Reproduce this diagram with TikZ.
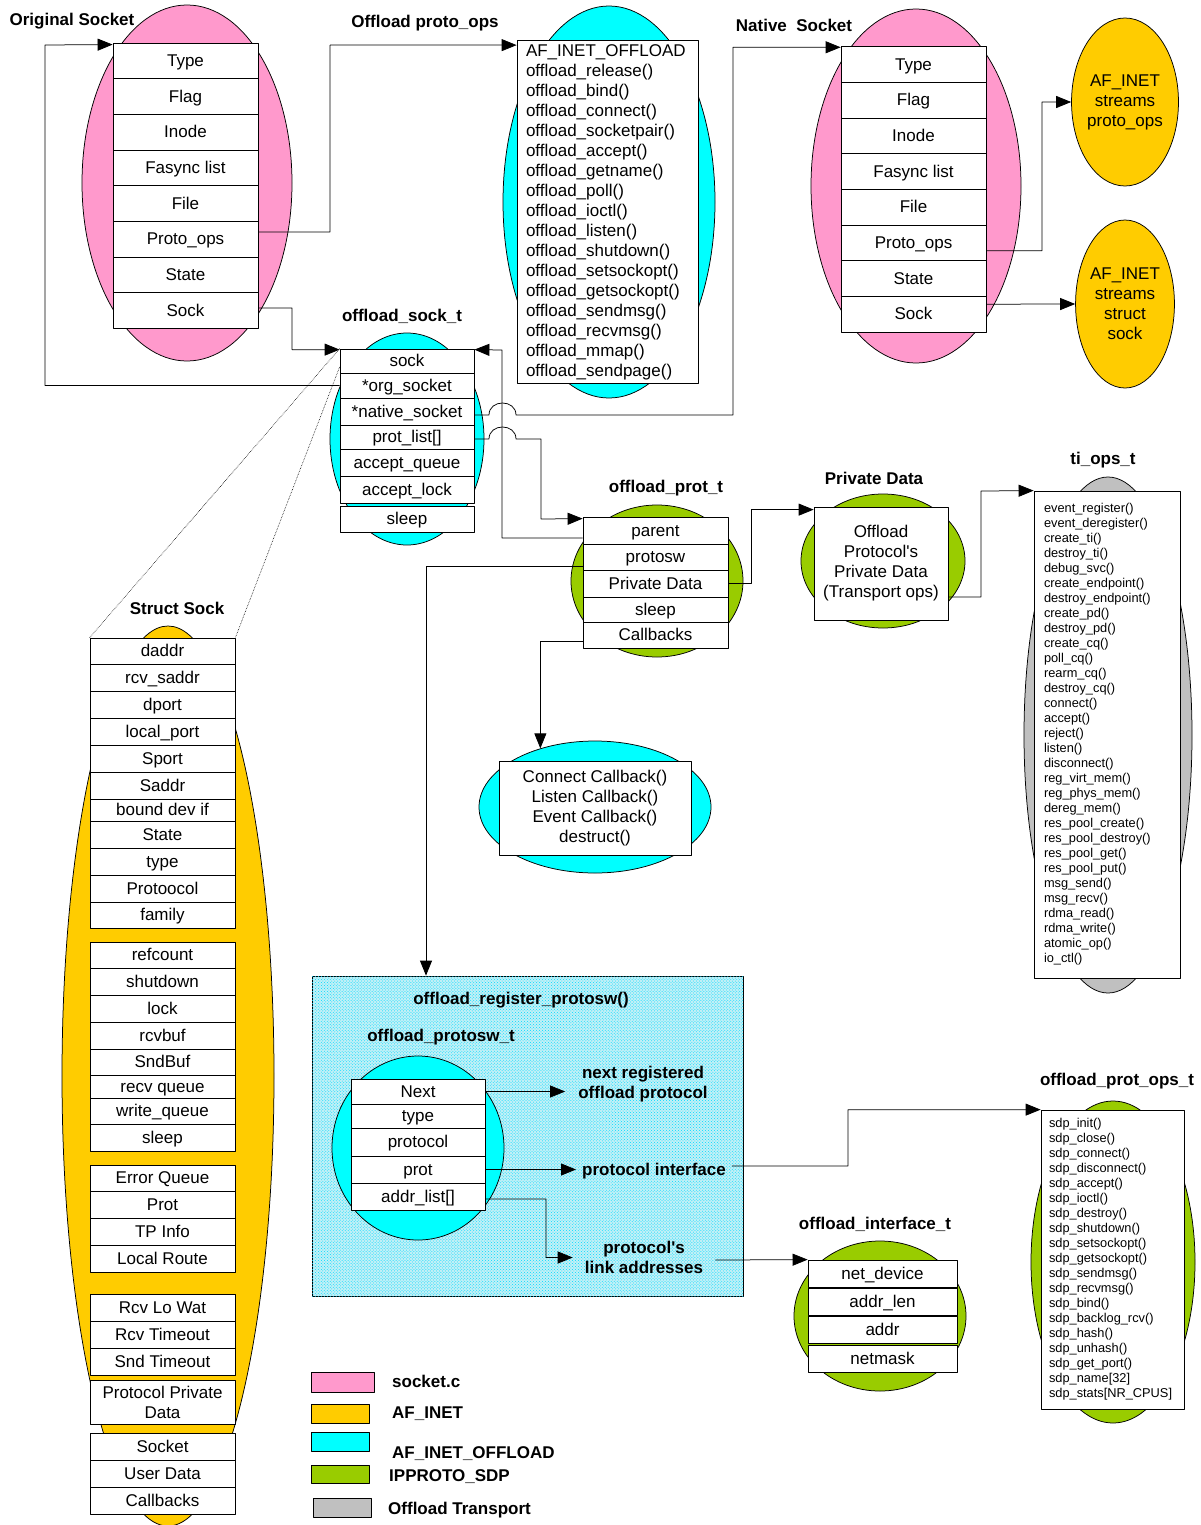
\documentclass[tikz,border=0pt]{standalone}
\usepackage{fontspec}
\setmainfont{Liberation Sans}
\usetikzlibrary{shapes.geometric,arrows.meta,patterns}
\definecolor{sockpink}{RGB}{255,153,204}
\definecolor{inetyel}{RGB}{255,204,0}
\definecolor{offcyan}{RGB}{0,255,255}
\definecolor{sdpgreen}{RGB}{153,204,0}
\definecolor{tpgray}{RGB}{192,192,192}
\definecolor{regfill}{RGB}{195,240,246}
\newcommand{\fieldfont}{\fontsize{17bp}{20bp}\selectfont}
\newcommand{\titlefont}{\fontsize{17bp}{20bp}\selectfont\bfseries}
\newcommand{\listfont}{\fontsize{12.8bp}{15bp}\selectfont}
\tikzset{
  field/.style={draw, fill=white, line width=0.75bp, inner sep=0pt, font=\fieldfont,
    text height=13.5bp, text depth=2bp, minimum width=145bp, minimum height=27bp},
  narrow/.style={minimum width=134bp},
  blob/.style={ellipse, draw, line width=0.75bp, inner sep=0pt},
  title/.style={font=\titlefont, inner sep=0pt, text height=13.5bp, text depth=2bp},
  lbl/.style={font=\titlefont, inner ysep=0pt, align=center},
  listbox/.style={draw, fill=white, line width=0.75bp, align=left, inner ysep=0pt},
  textbox/.style={draw, fill=white, line width=0.75bp, align=center, inner sep=0pt, font=\fieldfont},
  swatch/.style={draw, line width=0.75bp, inner sep=0pt},
  link/.style={->, line width=0.75bp},
  zoomline/.style={densely dotted, line width=0.6bp}
}
\begin{document}
\begin{tikzpicture}[x=1bp,y=-1bp,>={Triangle[length=15bp,width=12bp]},line join=bevel]
\useasboundingbox (0,0) rectangle (1200,1525);
%%
  \node (regBox) at (527.5,1136) [draw, line width=0.75bp, fill=regfill, postaction={pattern=crosshatch dots, pattern color=offcyan!85!blue}, minimum width=431bp, minimum height=320bp, inner sep=0pt] {};
%%
  \node (osEll) at (187,183) [blob, fill=sockpink, minimum width=210bp, minimum height=356bp] {};
  \node (popEll) at (609,202) [blob, fill=offcyan, minimum width=212bp, minimum height=392bp] {};
  \node (nsEll) at (916,186) [blob, fill=sockpink, minimum width=210bp, minimum height=354bp] {};
  \node (afOps) at (1125,102) [blob, fill=inetyel, minimum width=96bp, minimum height=168bp, align=center, font=\fieldfont] {AF\_INET\\streams\\proto\_ops};
  \node (afSock) at (1125,304) [blob, fill=inetyel, minimum width=96bp, minimum height=168bp, align=center, font=\fieldfont] {AF\_INET\\streams\\struct\\sock};
  \node (ostEll) at (407,439) [blob, fill=offcyan, minimum width=154bp, minimum height=212bp] {};
  \node (pEll) at (657,581) [blob, fill=sdpgreen, minimum width=172bp, minimum height=152bp] {};
  \node (cbEll) at (595,807) [blob, fill=offcyan, minimum width=232bp, minimum height=132bp] {};
  \node (privEll) at (883,561) [blob, fill=sdpgreen, minimum width=164bp, minimum height=134bp] {};
  \node (tiEll) at (1108,735) [blob, fill=tpgray, minimum width=168bp, minimum height=516bp] {};
  \node (ssEll) at (168,1076) [blob, fill=inetyel, minimum width=212bp, minimum height=900bp] {};
  \node (pwEll) at (418,1148) [blob, fill=offcyan, minimum width=172bp, minimum height=184bp] {};
  \node (ifEll) at (880,1316) [blob, fill=sdpgreen, minimum width=172bp, minimum height=150bp] {};
  \node (sdpEll) at (1113,1262) [blob, fill=sdpgreen, minimum width=164bp, minimum height=322bp] {};
%%
  \node (osType) at (185.5,60.8) [field, minimum height=35.7bp] {Type};
  \node (osFlag) at (185.5,96.5) [field, minimum height=35.7bp] {Flag};
  \node (osInode) at (185.5,132.2) [field, minimum height=35.7bp] {Inode};
  \node (osFasync) at (185.5,167.8) [field, minimum height=35.7bp] {Fasync list};
  \node (osFile) at (185.5,203.5) [field, minimum height=35.7bp] {File};
  \node (osProto) at (185.5,239.1) [field, minimum height=35.7bp] {Proto\_ops};
  \node (osState) at (185.5,274.8) [field, minimum height=35.7bp] {State};
  \node (osSock) at (185.5,310.5) [field, minimum height=35.7bp] {Sock};
%
  \node (nsType) at (913.5,64.5) [field, minimum height=35.7bp] {Type};
  \node (nsFlag) at (913.5,100.2) [field, minimum height=35.7bp] {Flag};
  \node (nsInode) at (913.5,135.8) [field, minimum height=35.7bp] {Inode};
  \node (nsFasync) at (913.5,171.5) [field, minimum height=35.7bp] {Fasync list};
  \node (nsFile) at (913.5,207.2) [field, minimum height=35.7bp] {File};
  \node (nsProto) at (913.5,242.8) [field, minimum height=35.7bp] {Proto\_ops};
  \node (nsState) at (913.5,278.5) [field, minimum height=35.7bp] {State};
  \node (nsSock) at (913.5,314.2) [field, minimum height=35.7bp] {Sock};
%
  \node (popBox) at (607.5,212) [listbox, font=\fieldfont, text width=163bp, inner xsep=9bp, minimum height=343bp] {AF\_INET\_OFFLOAD\\offload\_release()\\offload\_bind()\\offload\_connect()\\offload\_socketpair()\\offload\_accept()\\offload\_getname()\\offload\_poll()\\offload\_ioctl()\\offload\_listen()\\offload\_shutdown()\\offload\_setsockopt()\\offload\_getsockopt()\\offload\_sendmsg()\\offload\_recvmsg()\\offload\_mmap()\\offload\_sendpage()};
%
  \node (ostSock) at (407,361) [field, narrow, minimum height=24bp] {sock};
  \node (ostOrg) at (407,385.5) [field, narrow, minimum height=25bp] {*org\_socket};
  \node (ostNative) at (407,411.5) [field, narrow] {*native\_socket};
  \node (ostProt) at (407,437) [field, narrow, minimum height=24bp] {prot\_list[]};
  \node (ostQueue) at (407,462.5) [field, narrow] {accept\_queue};
  \node (ostLock) at (407,489.5) [field, narrow] {accept\_lock};
  \node (ostSleep) at (407,519) [field, narrow, minimum height=26bp] {sleep};
%
  \node (pParent) at (655.5,530.5) [field] {parent};
  \node (pProtosw) at (655.5,557) [field, minimum height=26bp] {protosw};
  \node (pPriv) at (655.5,583.5) [field] {Private Data};
  \node (pSleep) at (655.5,609.5) [field, minimum height=25bp] {sleep};
  \node (pCallbacks) at (655.5,635) [field, minimum height=26bp] {Callbacks};
%
  \node (cbBox) at (595,808) [textbox, minimum width=192bp, minimum height=94bp] {Connect Callback()\\Listen Callback()\\Event Callback()\\destruct()};
  \node (privBox) at (881,563.5) [textbox, minimum width=134bp, minimum height=113bp] {Offload\\Protocol\textquotesingle s\\Private Data\\(Transport ops)};
  \node (tiBox) at (1107,734.5) [listbox, font=\listfont, text width=126bp, inner xsep=10bp, minimum height=487bp] {event\_register()\\event\_deregister()\\create\_ti()\\destroy\_ti()\\debug\_svc()\\create\_endpoint()\\destroy\_endpoint()\\create\_pd()\\destroy\_pd()\\create\_cq()\\poll\_cq()\\rearm\_cq()\\destroy\_cq()\\connect()\\accept()\\reject()\\listen()\\disconnect()\\reg\_virt\_mem()\\reg\_phys\_mem()\\dereg\_mem()\\res\_pool\_create()\\res\_pool\_destroy()\\res\_pool\_get()\\res\_pool\_put()\\msg\_send()\\msg\_recv()\\rdma\_read()\\rdma\_write()\\atomic\_op()\\io\_ctl()};
%
  \node (pwNext) at (418,1091.5) [field, narrow, minimum height=25bp] {Next};
  \node (pwType) at (418,1116) [field, narrow, minimum height=24bp] {type};
  \node (pwProto) at (418,1142) [field, narrow, minimum height=28bp] {protocol};
  \node (pwProt) at (418,1169.5) [field, narrow] {prot};
  \node (pwAddr) at (418,1196.5) [field, narrow] {addr\_list[]};
%
  \node (ifNet) at (882.5,1273.5) [field, minimum width=149bp] {net\_device};
  \node (ifLen) at (882.5,1301.5) [field, minimum width=149bp] {addr\_len};
  \node (ifAddr) at (882.5,1329.5) [field, minimum width=149bp] {addr};
  \node (ifMask) at (882.5,1358.5) [field, minimum width=149bp] {netmask};
  \node (sdpBox) at (1112.5,1259.5) [listbox, font=\listfont, text width=127bp, inner xsep=8bp, minimum height=299bp] {sdp\_init()\\sdp\_close()\\sdp\_connect()\\sdp\_disconnect()\\sdp\_accept()\\sdp\_ioctl()\\sdp\_destroy()\\sdp\_shutdown()\\sdp\_setsockopt()\\sdp\_getsockopt()\\sdp\_sendmsg()\\sdp\_recvmsg()\\sdp\_bind()\\sdp\_backlog\_rcv()\\sdp\_hash()\\sdp\_unhash()\\sdp\_get\_port()\\sdp\_name[32]\\sdp\_stats[NR\_CPUS]};
%
  \node (ssDaddr) at (162.5,651) [field, minimum height=26bp] {daddr};
  \node (ssRcvSaddr) at (162.5,677.5) [field] {rcv\_saddr};
  \node (ssDport) at (162.5,704.5) [field] {dport};
  \node (ssLport) at (162.5,731.5) [field] {local\_port};
  \node (ssSport) at (162.5,758.5) [field] {Sport};
  \node (ssSaddr) at (162.5,785.5) [field] {Saddr};
  \node (ssBound) at (162.5,810) [field, minimum height=22bp] {bound dev if};
  \node (ssState) at (162.5,834.5) [field] {State};
  \node (ssType) at (162.5,861.5) [field] {type};
  \node (ssProto) at (162.5,888.5) [field] {Protoocol};
  \node (ssFamily) at (162.5,915) [field, minimum height=26bp] {family};
  \node (ssRef) at (162.5,955) [field, minimum height=26bp] {refcount};
  \node (ssShut) at (162.5,981.5) [field] {shutdown};
  \node (ssLock) at (162.5,1008.5) [field] {lock};
  \node (ssRcvbuf) at (162.5,1035.5) [field] {rcvbuf};
  \node (ssSndbuf) at (162.5,1062) [field, minimum height=26bp] {SndBuf};
  \node (ssRecvQ) at (162.5,1086.5) [field, minimum height=23bp] {recv queue};
  \node (ssWriteQ) at (162.5,1111) [field, minimum height=26bp] {write\_queue};
  \node (ssSleep) at (162.5,1137.5) [field] {sleep};
  \node (ssErrQ) at (162.5,1178) [field, minimum height=26bp] {Error Queue};
  \node (ssProt) at (162.5,1204.5) [field] {Prot};
  \node (ssTp) at (162.5,1231.5) [field] {TP Info};
  \node (ssRoute) at (162.5,1258.5) [field] {Local Route};
  \node (ssLoWat) at (162.5,1307.5) [field] {Rcv Lo Wat};
  \node (ssRcvTo) at (162.5,1334.5) [field] {Rcv Timeout};
  \node (ssSndTo) at (162.5,1361.5) [field] {Snd Timeout};
  \node (ssPriv) at (162.5,1402) [textbox, minimum width=145bp, minimum height=44bp] {Protocol Private\\Data};
  \node (ssSocket) at (162.5,1446.5) [field] {Socket};
  \node (ssUser) at (162.5,1473.5) [field] {User Data};
  \node (ssCallbacks) at (162.5,1500.5) [field] {Callbacks};
%%
  \node (osTitle) at (72,20) [title] {Original Socket};
  \node (popTitle) at (425,22) [title] {Offload proto\_ops};
  \node (nsTitle) at (794,26) [title] {Native\ \ Socket};
  \node (ostTitle) at (402,316) [title] {offload\_sock\_t};
  \node (pTitle) at (666,487) [title] {offload\_prot\_t};
  \node (privTitle) at (874,479) [title] {Private Data};
  \node (tiTitle) at (1103,459) [title] {ti\_ops\_t};
  \node (ssTitle) at (177,609) [title] {Struct Sock};
  \node (regTitle) at (521,999) [title] {offload\_register\_protosw()};
  \node (pwTitle) at (441,1036) [title] {offload\_protosw\_t};
  \node (sdpTitle) at (1117,1080) [title] {offload\_prot\_ops\_t};
  \node (ifTitle) at (875,1224) [title] {offload\_interface\_t};
  \node (nextLbl) at (643,1084.5) [lbl, inner xsep=13bp] {next registered\\offload protocol};
  \node (protIfLbl) at (654,1170) [title, inner xsep=6bp] {protocol interface};
  \node (linkLbl) at (644,1257.5) [lbl, inner xsep=12bp] {protocol\textquotesingle s\\link addresses};
%%
  \draw [link] (ostOrg.west) -| (45,45) -- ([yshift=-2bp]osType.north west);
  \draw [link] ([yshift=7bp]osProto.east) -- (330,232.1) |- ([yshift=-5bp]popBox.north west);
  \draw [link] ([yshift=2.5bp]osSock.east) -- (292,308) |- ([yshift=-1bp]ostSock.north west);
  \draw [link] ([yshift=-3.5bp]ostNative.east) -- (489,415) .. controls (489,399) and (516,399) .. (516,415) -- (733,415) |- ([yshift=-1bp]nsType.north west);
  \draw [link] ([yshift=-2bp]ostProt.east) -- (489,439) .. controls (489,423) and (516,423) .. (516,439) -| (541,519) -- ([yshift=-2bp]pParent.north west);
  \draw [link] ([yshift=-7.5bp]pParent.west) -| (502,350) -- ([yshift=-1bp]ostSock.north east);
  \draw [link] ([yshift=-9bp]pProtosw.west) -| ([xshift=-101.5bp]regBox.north);
  \draw [link] (pPriv.east) -- (751,583.5) |- ([yshift=-3bp]privBox.north west);
  \draw [link] ([yshift=-6bp]pCallbacks.west) -| (cbEll.133.5);
  \draw [link] ([yshift=-33.5bp]privBox.east) -| (981,491) -- (tiBox.north west);
  \draw [link] ([yshift=-8bp]nsProto.east) -- (1042,250.8) |- (afOps.west);
  \draw [link] ([yshift=10bp]nsSock.east) -- (afSock.west);
  \draw [link] (pwNext.east) -- (pwNext.east -| nextLbl.west);
  \draw [link] (pwProt.east) -- (pwProt.east -| protIfLbl.west);
  \draw [link] ([yshift=-2.5bp]pwAddr.east) -- (546,1199) |- (linkLbl.west);
  \draw [link] ([yshift=4bp]protIfLbl.east) -- (848,1166) |- (sdpBox.north west);
  \draw [link] ([yshift=-2.5bp]linkLbl.east) -- (ifNet.north west);
  \draw [zoomline] (ostSock.north west) -- (ssDaddr.north west);
  \draw [zoomline] ([yshift=-6bp]ostSock.west) -- (ssDaddr.north east);
%%
  \node (lgPink) at (342.5,1382) [swatch, fill=sockpink, minimum width=63bp, minimum height=20bp] {};
  \node (lgYel) at (340,1413.5) [swatch, fill=inetyel, minimum width=58bp, minimum height=19bp] {};
  \node (lgCyan) at (340,1441.5) [swatch, fill=offcyan, minimum width=58bp, minimum height=19bp] {};
  \node (lgGreen) at (340,1474) [swatch, fill=sdpgreen, minimum width=58bp, minimum height=18bp] {};
  \node (lgGray) at (342,1507.5) [swatch, fill=tpgray, minimum width=58bp, minimum height=19bp] {};
  \node (lgPinkTxt) at (392,1382) [title, anchor=west] {socket.c};
  \node (lgYelTxt) at (392,1413) [title, anchor=west] {AF\_INET};
  \node (lgCyanTxt) at (392,1453) [title, anchor=west] {AF\_INET\_OFFLOAD};
  \node (lgGreenTxt) at (389,1476) [title, anchor=west] {IPPROTO\_SDP};
  \node (lgGrayTxt) at (388,1509) [title, anchor=west] {Offload Transport};
%
\end{tikzpicture}
\end{document}
